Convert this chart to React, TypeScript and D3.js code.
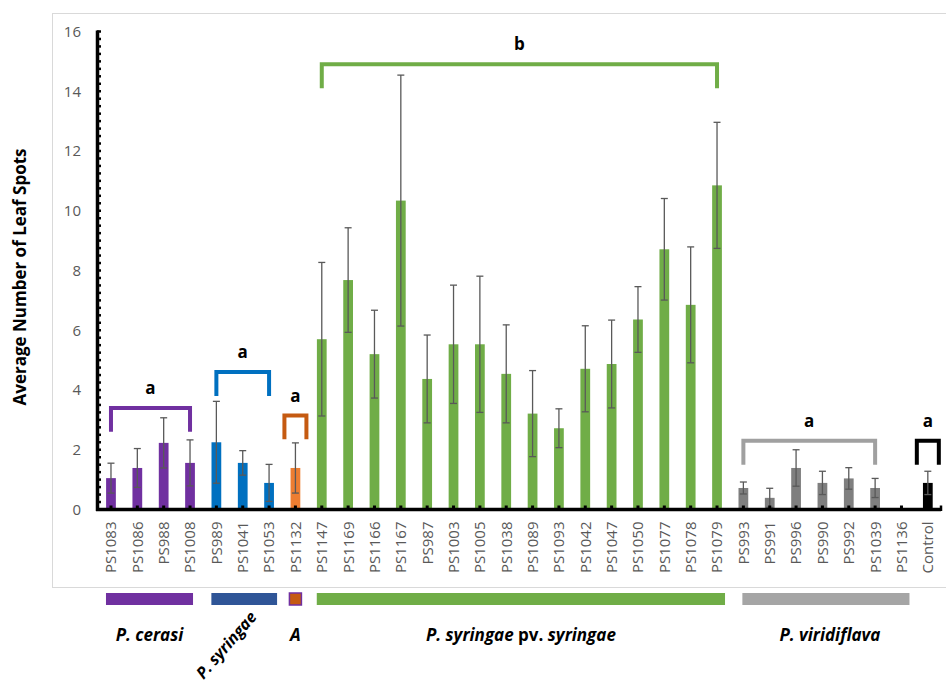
import React, { useEffect, useRef } from "react";
import * as d3 from "d3";

const categories = [
  "PS1083", "PS1086", "PS988", "PS1008", "PS989", "PS1041", "PS1053", "PS1132",
  "PS1147", "PS1169", "PS1166", "PS1167", "PS987", "PS1003", "PS1005", "PS1038",
  "PS1089", "PS1093", "PS1042", "PS1047", "PS1050", "PS1077", "PS1078", "PS1079",
  "PS993", "PS991", "PS996", "PS990", "PS992", "PS1039", "PS1136", "Control",
];
const means = [
  1.05, 1.39, 2.23, 1.56, 2.25, 1.56, 0.89, 1.39,
  5.7, 7.68, 5.2, 10.34, 4.37, 5.53, 5.53, 4.54,
  3.21, 2.72, 4.71, 4.87, 6.36, 8.71, 6.85, 10.85,
  0.72, 0.39, 1.39, 0.89, 1.04, 0.72, 0, 0.89,
];
const errors = [
  0.5, 0.65, 0.84, 0.77, 1.37, 0.41, 0.62, 0.84,
  2.57, 1.75, 1.47, 4.2, 1.47, 1.98, 2.28, 1.64,
  1.44, 0.65, 1.44, 1.47, 1.1, 1.7, 1.94, 2.11,
  0.2, 0.32, 0.61, 0.39, 0.36, 0.32, 0, 0.39,
];
// colour of each bar by index range
const barColorStart = [0, 4, 7, 8, 24, 31];
const barColors = ["#7030A0", "#0070C0", "#ED7D31", "#70AD47", "#7F7F7F", "#000000"];

// significance brackets
const bracketStart = [0, 4, 7, 8, 24, 31];
const bracketEnd = [3, 6, 7, 23, 29, 31];
const bracketLevel = [3.4, 4.6, 3.15, 14.9, 2.3, 2.3];
const bracketLetter = ["a", "a", "a", "b", "a", "a"];
const bracketColors = ["#7030A0", "#0070C0", "#C55A11", "#70AD47", "#A0A0A0", "#000000"];

// species groups under the axis
const groupNames = ["P. cerasi", "P. syringae", "A", "P. syringae pv. syringae", "P. viridiflava"];
const groupStart = [0, 4, 7, 8, 24];
const groupEnd = [3, 6, 7, 23, 30];
const groupColors = ["#7030A0", "#2F5597", "#C55A11", "#70AD47", "#A5A5A5"];

const yTicks = [0, 2, 4, 6, 8, 10, 12, 14, 16];

export default function App() {
  const svgRef = useRef(null);
  const width = 946;
  const height = 687;

  useEffect(() => {
    document.body.style.margin = "0";
    const svg = d3.select(svgRef.current);
    svg.selectAll("*").remove();

    const x = d3.scaleBand<string>().domain(categories).range([97.8, 941]).paddingInner(0.63).paddingOuter(0.315);
    const cx = (i: number) => (x(categories[i]) as number) + x.bandwidth() / 2;
    const y = d3.scaleLinear().domain([0, 16]).range([509.5, 31.5]);
    const font = "'Open Sans', sans-serif";

    // frame
    svg.append("rect").attr("x", 52.5).attr("y", 13.5).attr("width", 920).attr("height", 574)
      .attr("fill", "none").attr("stroke", "#D9D9D9").attr("stroke-width", 1);

    // bars
    const colorOf = (i: number) => {
      let c = barColors[0];
      barColorStart.forEach((s, k) => { if (i >= s) c = barColors[k]; });
      return c;
    };
    svg.append("g").selectAll("rect").data(means).enter().append("rect")
      .attr("x", (d, i) => x(categories[i]) as number)
      .attr("y", (d) => y(d))
      .attr("width", x.bandwidth())
      .attr("height", (d) => y(0) - y(d))
      .attr("fill", (d, i) => colorOf(i));

    // error bars
    const eb = svg.append("g").attr("stroke", "#595959").attr("stroke-width", 1.3);
    means.forEach((m, i) => {
      if (errors[i] <= 0) return;
      const c = cx(i);
      eb.append("line").attr("x1", c).attr("x2", c).attr("y1", y(m - errors[i])).attr("y2", y(m + errors[i]));
      eb.append("line").attr("x1", c - 3.5).attr("x2", c + 3.5).attr("y1", y(m + errors[i])).attr("y2", y(m + errors[i]));
      eb.append("line").attr("x1", c - 3.5).attr("x2", c + 3.5).attr("y1", y(m - errors[i])).attr("y2", y(m - errors[i]));
    });

    // y axis
    svg.append("line").attr("x1", 97.5).attr("x2", 97.5).attr("y1", y(16) - 1).attr("y2", y(0) + 1.5)
      .attr("stroke", "#000").attr("stroke-width", 3.5);
    svg.append("g").selectAll("line").data(d3.range(0, 16.01, 0.25)).enter().append("line")
      .attr("x1", 97).attr("x2", 101).attr("y1", (d) => y(d)).attr("y2", (d) => y(d))
      .attr("stroke", "#000").attr("stroke-width", 2.5);
    svg.append("g").selectAll("text").data(yTicks).enter().append("text")
      .attr("x", 81).attr("y", (d) => y(d)).attr("text-anchor", "end").attr("dy", "0.36em")
      .attr("fill", "#595959").style("font-family", font).style("font-size", "15px")
      .text((d) => d);

    // x axis
    svg.append("line").attr("x1", 96).attr("x2", 941).attr("y1", y(0)).attr("y2", y(0))
      .attr("stroke", "#000").attr("stroke-width", 3.5);
    svg.append("line").attr("x1", 941).attr("x2", 941).attr("y1", y(0) + 1.5).attr("y2", y(0) - 4)
      .attr("stroke", "#000").attr("stroke-width", 2.5);
    svg.append("g").selectAll("rect").data(categories).enter().append("rect")
      .attr("x", (d, i) => cx(i) - 1.5).attr("y", y(0) - 4).attr("width", 3).attr("height", 4)
      .attr("fill", "#000");
    svg.append("g").selectAll("text").data(categories).enter().append("text")
      .attr("transform", (d, i) => `translate(${cx(i)},${y(0) + 12}) rotate(-90)`)
      .attr("text-anchor", "end").attr("dy", "0.36em")
      .attr("fill", "#595959").style("font-family", font).style("font-size", "15px")
      .text((d) => d);

    // brackets
    bracketLetter.forEach((letter, k) => {
      const single = bracketStart[k] === bracketEnd[k];
      const x1 = single ? cx(bracketStart[k]) - 11 : cx(bracketStart[k]);
      const x2 = single ? cx(bracketEnd[k]) + 11 : cx(bracketEnd[k]);
      const top = y(bracketLevel[k]);
      const bottom = y(bracketLevel[k] - 0.8);
      svg.append("path")
        .attr("d", `M${x1},${bottom}V${top}H${x2}V${bottom}`)
        .attr("fill", "none").attr("stroke", bracketColors[k]).attr("stroke-width", 4);
      svg.append("text").attr("x", (x1 + x2) / 2).attr("y", top - 20).attr("dy", "0.36em")
        .attr("text-anchor", "middle").attr("fill", "#000")
        .style("font-family", font).style("font-size", "17px").style("font-weight", "bold")
        .text(letter);
    });

    // y title
    svg.append("text").attr("transform", "translate(20,277) rotate(-90)")
      .attr("text-anchor", "middle").attr("dy", "0.36em").attr("fill", "#000")
      .style("font-family", font).style("font-size", "17px").style("font-weight", "bold")
      .text("Average Number of Leaf Spots");

    // species legend
    groupNames.forEach((name, k) => {
      const single = groupStart[k] === groupEnd[k];
      const x1 = single ? cx(groupStart[k]) - 6 : cx(groupStart[k]) - 5 + (k === 4 ? 4 : 0);
      const x2 = single ? cx(groupEnd[k]) + 6 : cx(groupEnd[k]) + 8 + (k === 0 ? -5 : 0);
      svg.append("rect").attr("x", x1).attr("y", 593).attr("width", x2 - x1).attr("height", 12)
        .attr("fill", groupColors[k])
        .attr("stroke", single ? "#7030A0" : "none").attr("stroke-width", 1.5);
      const mid = (x1 + x2) / 2;
      const t = svg.append("text").attr("fill", "#000")
        .style("font-family", font).style("font-size", "17px").style("font-weight", "bold")
        .style("font-style", "italic").attr("text-anchor", "middle");
      if (name === "P. syringae") {
        t.attr("transform", `translate(${mid - 18},${645}) rotate(-49)`).attr("dy", "0.36em")
          .style("font-size", "16px").text(name);
      } else if (name.includes(" pv. ")) {
        const parts = name.split(" pv. ");
        t.attr("x", mid).attr("y", 641);
        t.append("tspan").text(parts[0] + " ");
        t.append("tspan").style("font-style", "normal").text("pv. ");
        t.append("tspan").text(parts[1]);
      } else {
        t.attr("x", mid + (k === 4 ? 4 : 0)).attr("y", 641).text(name);
      }
    });
  }, []);

  return (
    <div style={{ position: "absolute", left: 0, top: 0 }}>
      <svg ref={svgRef} width={width} height={height} style={{ display: "block", background: "#fff" }} />
    </div>
  );
}
